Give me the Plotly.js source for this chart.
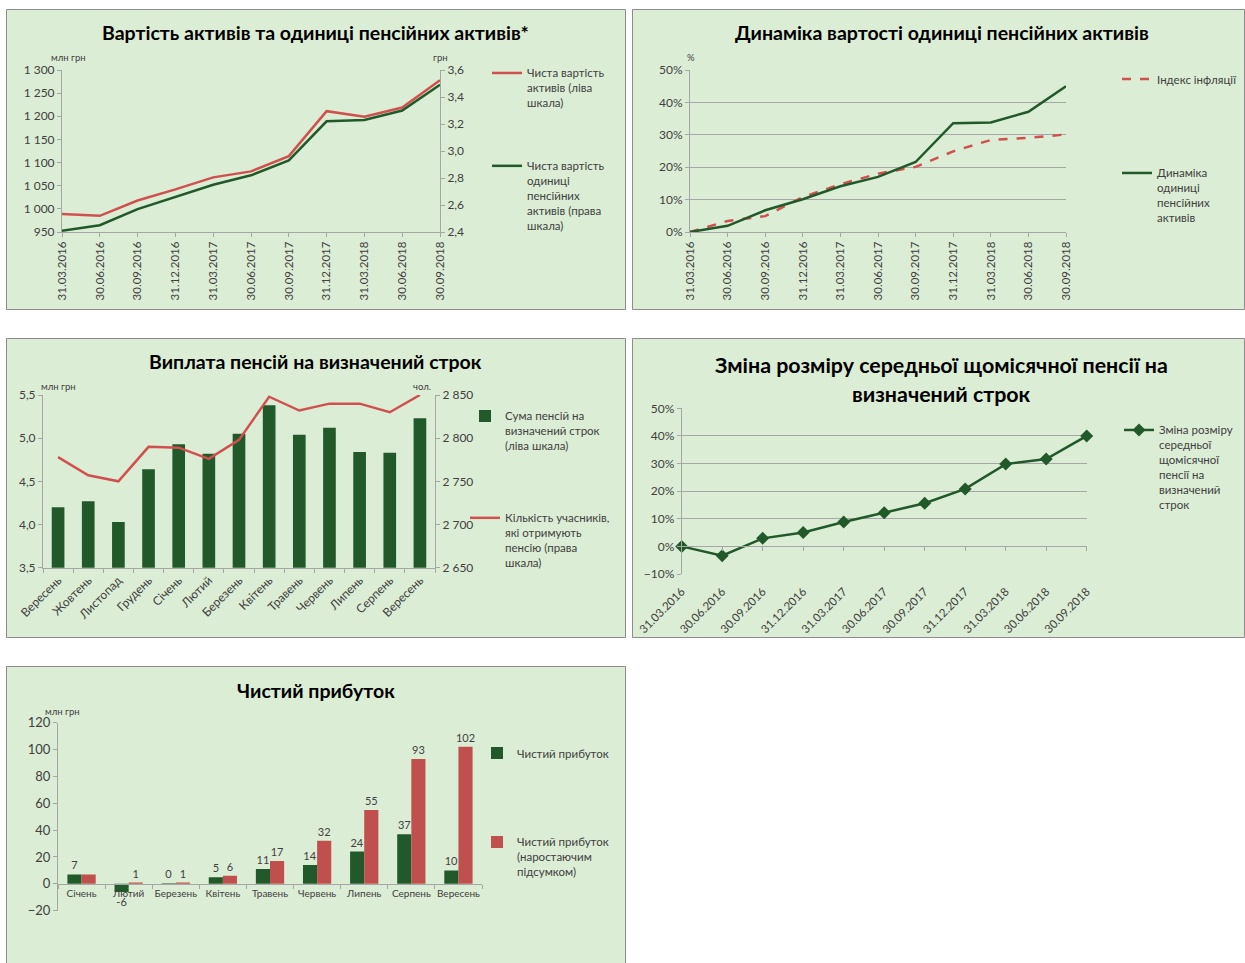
<!DOCTYPE html>
<html>
<head>
<meta charset="utf-8">
<script src="https://cdn.plot.ly/plotly-3.0.1.min.js"></script>
<style>html,body{margin:0;padding:0;background:#fff;}#chart{width:1245px;height:963px;}</style>
</head>
<body>
<div id="chart"></div>
<script>
// ---------- DATA ----------
const quarterDates = ['31.03.2016','30.06.2016','30.09.2016','31.12.2016','31.03.2017','30.06.2017','30.09.2017','31.12.2017','31.03.2018','30.06.2018','30.09.2018'];
const netAssetValue = [989, 985, 1018, 1042, 1068, 1081, 1114, 1211, 1199, 1219, 1278];
const unitAssetValue = [2.41, 2.45, 2.57, 2.66, 2.75, 2.82, 2.93, 3.22, 3.23, 3.30, 3.49];
const inflationIndex = [0, 0.034, 0.049, 0.108, 0.147, 0.180, 0.201, 0.249, 0.284, 0.291, 0.301];
const unitDynamics = [0, 0.019, 0.067, 0.101, 0.141, 0.170, 0.216, 0.336, 0.338, 0.371, 0.450];

const payoutMonths = ['Вересень','Жовтень','Листопад','Грудень','Січень','Лютий','Березень','Квітень','Травень','Червень','Липень','Серпень','Вересень'];
const pensionSum = [4.20, 4.27, 4.03, 4.64, 4.93, 4.82, 5.05, 5.38, 5.04, 5.12, 4.84, 4.83, 5.23];
const recipients = [2778, 2757, 2750, 2790, 2789, 2776, 2798, 2848, 2832, 2840, 2840, 2830, 2850];

const avgPensionChange = [0, -0.034, 0.029, 0.050, 0.088, 0.122, 0.156, 0.208, 0.298, 0.316, 0.400];

const profitMonths = ['Січень','Лютий','Березень','Квітень','Травень','Червень','Липень','Серпень','Вересень'];
const netProfit = [7, -6, 0.4, 5, 11, 14, 24, 37, 10];
const netProfitCum = [7, 1, 1, 6, 17, 32, 55, 93, 102];

// ---------- STYLE ----------
const W = 1245, H = 963;
const X = p => p / W;
const Y = p => 1 - p / H;
const FONT = 'Lato, "Open Sans", sans-serif';
const GREEN = '#22592a';
const RED_LINE = '#d0504f';
const RED_BAR = '#c0504d';
const PANEL_FILL = '#dcedd5';
const AXC = '#a6a6a6';
const TXT = '#404040';

const axBase = {
  showgrid: false, zeroline: false, showline: true, linecolor: AXC, linewidth: 1,
  ticks: 'outside', ticklen: 4, tickcolor: AXC,
  tickfont: {family: FONT, size: 12, color: TXT}, fixedrange: true
};
const legBase = {
  xanchor: 'left', yanchor: 'top', valign: 'top', bgcolor: 'rgba(0,0,0,0)',
  font: {family: FONT, size: 11.5, color: TXT}, traceorder: 'grouped', itemwidth: 30
};

const idx13 = payoutMonths.map((_, i) => i);

// domains
const y6dom = [Y(574), Y(408.3)], y6rng = [-0.1, 0.5];
const y7dom = [Y(910.7), Y(722.7)], y7rng = [-20, 120];
const zeroPos = (dom, rng) => dom[0] + (0 - rng[0]) / (rng[1] - rng[0]) * (dom[1] - dom[0]);

const traces = [
  // Panel 1
  {type: 'scatter', mode: 'lines', x: quarterDates, y: netAssetValue, xaxis: 'x', yaxis: 'y',
   name: 'Чиста вартість<br>активів (ліва<br>шкала)', line: {color: RED_LINE, width: 2.5},
   legend: 'legend', legendgroup: 'p1a'},
  {type: 'scatter', mode: 'lines', x: quarterDates, y: unitAssetValue, xaxis: 'x', yaxis: 'y2',
   name: 'Чиста вартість<br>одиниці<br>пенсійних<br>активів (права<br>шкала)', line: {color: GREEN, width: 2.5},
   legend: 'legend', legendgroup: 'p1b'},
  // Panel 2
  {type: 'scatter', mode: 'lines', x: quarterDates, y: inflationIndex, xaxis: 'x2', yaxis: 'y3',
   name: 'Індекс інфляції', line: {color: RED_LINE, width: 2.5, dash: 'dash'},
   legend: 'legend2', legendgroup: 'p2a'},
  {type: 'scatter', mode: 'lines', x: quarterDates, y: unitDynamics, xaxis: 'x2', yaxis: 'y3',
   name: 'Динаміка<br>одиниці<br>пенсійних<br>активів', line: {color: GREEN, width: 2.5},
   legend: 'legend2', legendgroup: 'p2b'},
  // Panel 3
  {type: 'bar', x: idx13, y: pensionSum, xaxis: 'x3', yaxis: 'y4', width: 0.42,
   name: 'Сума пенсій на<br>визначений строк<br>(ліва шкала)', marker: {color: GREEN},
   legend: 'legend3', legendgroup: 'p3a'},
  {type: 'scatter', mode: 'lines', x: idx13, y: recipients, xaxis: 'x3', yaxis: 'y5',
   name: 'Кількість учасників,<br>які отримують<br>пенсію (права<br>шкала)', line: {color: RED_LINE, width: 2.5},
   legend: 'legend3', legendgroup: 'p3b'},
  // Panel 4
  {type: 'scatter', mode: 'lines+markers', x: quarterDates, y: avgPensionChange, xaxis: 'x4', yaxis: 'y6',
   name: 'Зміна розміру<br>середньої<br>щомісячної<br>пенсії на<br>визначений<br>строк',
   line: {color: GREEN, width: 2.5}, marker: {symbol: 'diamond', size: 10, color: GREEN},
   legend: 'legend4', legendgroup: 'p4a', cliponaxis: false},
  // Panel 5
  {type: 'bar', x: profitMonths, y: netProfit, xaxis: 'x5', yaxis: 'y7',
   name: 'Чистий прибуток', marker: {color: GREEN},
   text: netProfit.map(v => String(Math.round(v))), textposition: 'outside', constraintext: 'none',
   textfont: {family: FONT, size: 11, color: TXT}, cliponaxis: false,
   legend: 'legend5', legendgroup: 'p5a'},
  {type: 'bar', x: profitMonths, y: netProfitCum, xaxis: 'x5', yaxis: 'y7',
   name: 'Чистий прибуток<br>(наростаючим<br>підсумком)', marker: {color: RED_BAR},
   text: netProfitCum.map((v, i) => i === 0 ? '' : String(Math.round(v))), textposition: 'outside', constraintext: 'none',
   textfont: {family: FONT, size: 11, color: TXT}, cliponaxis: false,
   legend: 'legend5', legendgroup: 'p5b'}
];

const panels = [
  [6.5, 9.5, 625.5, 309.5],
  [632.5, 9.5, 1244.5, 309.5],
  [6.5, 338.5, 625.5, 637.5],
  [632.5, 338.5, 1244.5, 637.5],
  [6.5, 666.5, 625.5, 975]
];
const shapes = panels.map(p => ({
  type: 'rect', xref: 'paper', yref: 'paper', layer: 'below',
  x0: X(p[0]), x1: X(p[2]), y0: Y(p[3]), y1: Y(p[1]),
  fillcolor: PANEL_FILL, line: {color: '#8c8c8c', width: 1}
}));

const ann = (text, x, y, size, bold, color, xanchor) => ({
  xref: 'paper', yref: 'paper', x: X(x), y: Y(y), xanchor: xanchor || 'center', yanchor: 'middle',
  showarrow: false, text: bold ? '<b>' + text + '</b>' : text,
  font: {family: FONT, size: size, color: color || TXT}
});

const annotations = [
  ann('Вартість активів та одиниці пенсійних активів*', 315, 32, 19.5, true, '#000'),
  ann('Динаміка вартості одиниці пенсійних активів', 942, 32, 19.5, true, '#000'),
  ann('Виплата пенсій на визначений строк', 315, 362, 19.5, true, '#000'),
  ann('Зміна розміру середньої щомісячної пенсії на', 941, 365, 21.4, true, '#000'),
  ann('визначений строк', 941, 394, 21.4, true, '#000'),
  ann('Чистий прибуток', 316, 690, 19.5, true, '#000'),
  ann('млн грн', 68, 57, 9.5, false),
  ann('грн', 440, 57, 9.5, false),
  ann('%', 691, 57, 9.5, false),
  ann('млн грн', 58, 386, 9.5, false),
  ann('чол.', 422, 387, 9.5, false),
  ann('млн грн', 62, 711, 9.5, false)
];

const layout = {
  width: W, height: H, margin: {l: 0, r: 0, t: 0, b: 0},
  paper_bgcolor: '#ffffff', plot_bgcolor: 'rgba(0,0,0,0)',
  separators: ', ', barmode: 'group', bargap: 0.4, bargroupgap: 0,
  font: {family: FONT, color: TXT},
  shapes: shapes, annotations: annotations,
  // Panel 1
  xaxis: Object.assign({}, axBase, {domain: [X(62), X(440)], anchor: 'y', type: 'category', range: [0, 10],
    tickangle: -90, tickfont: {family: FONT, size: 11.5, color: TXT}}),
  yaxis: Object.assign({}, axBase, {domain: [Y(232), Y(70)], anchor: 'x', range: [950, 1300], dtick: 50, separatethousands: true}),
  yaxis2: Object.assign({}, axBase, {overlaying: 'y', side: 'right', anchor: 'x', range: [2.4, 3.6], dtick: 0.2, tickformat: '.1f'}),
  // Panel 2
  xaxis2: Object.assign({}, axBase, {domain: [X(690), X(1066)], anchor: 'y3', type: 'category', range: [0, 10],
    tickangle: -90, tickfont: {family: FONT, size: 11.5, color: TXT}}),
  yaxis3: Object.assign({}, axBase, {domain: [Y(232), Y(70)], anchor: 'x2', range: [0, 0.5], dtick: 0.1, tickformat: '.0%',
    showgrid: true, gridcolor: AXC, gridwidth: 1}),
  // Panel 3
  xaxis3: Object.assign({}, axBase, {domain: [X(43), X(435)], anchor: 'y4', range: [-0.5, 12.5],
    tickmode: 'array', tickvals: idx13, ticktext: payoutMonths, ticks: '', tickangle: -45,
    tickfont: {family: FONT, size: 12, color: TXT},
    minor: {ticks: 'outside', tick0: 0.5, dtick: 1, ticklen: 4, tickcolor: AXC, showgrid: false}}),
  yaxis4: Object.assign({}, axBase, {domain: [Y(567.7), Y(395)], anchor: 'x3', range: [3.5, 5.5], dtick: 0.5, tickformat: '.1f'}),
  yaxis5: Object.assign({}, axBase, {overlaying: 'y4', side: 'right', anchor: 'x3', range: [2650, 2850], dtick: 50, separatethousands: true}),
  // Panel 4
  xaxis4: Object.assign({}, axBase, {domain: [X(681.7), X(1086.7)], anchor: 'free', position: zeroPos(y6dom, y6rng),
    type: 'category', range: [0, 10], tickangle: -45, ticklabelstandoff: 29,
    tickfont: {family: FONT, size: 11.5, color: TXT}}),
  yaxis6: Object.assign({}, axBase, {domain: y6dom, anchor: 'x4', range: y6rng, dtick: 0.1, tickformat: '.0%',
    showgrid: true, gridcolor: AXC, gridwidth: 1}),
  // Panel 5
  xaxis5: Object.assign({}, axBase, {domain: [X(58), X(482)], anchor: 'free', position: zeroPos(y7dom, y7rng),
    type: 'category', range: [-0.5, 8.5], tickson: 'boundaries', tickangle: 0,
    tickfont: {family: FONT, size: 10, color: TXT}}),
  yaxis7: Object.assign({}, axBase, {domain: y7dom, anchor: 'x5', range: y7rng, dtick: 20,
    tickfont: {family: FONT, size: 13, color: TXT}}),
  // Legends
  legend: Object.assign({}, legBase, {x: X(487), y: Y(59), tracegroupgap: 45}),
  legend2: Object.assign({}, legBase, {x: X(1117), y: Y(65), tracegroupgap: 75}),
  legend3: Object.assign({}, legBase, {x: X(465), y: Y(402), tracegroupgap: 54}),
  legend4: Object.assign({}, legBase, {x: X(1119), y: Y(416), tracegroupgap: 10}),
  legend5: Object.assign({}, legBase, {x: X(477), y: Y(739), tracegroupgap: 70})
};

Plotly.newPlot('chart', traces, layout, {staticPlot: true, displayModeBar: false});
</script>
</body>
</html>
